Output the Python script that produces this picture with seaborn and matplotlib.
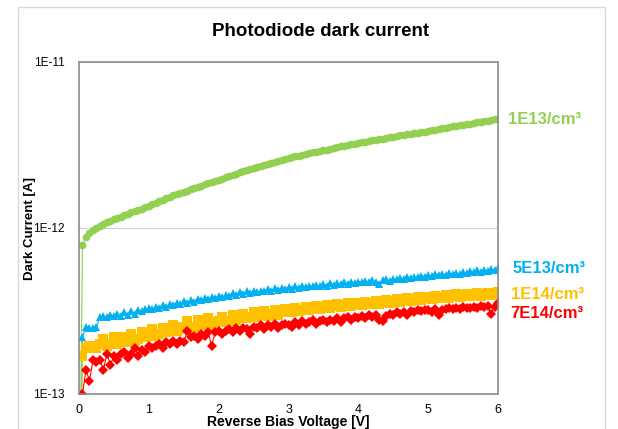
import numpy as np
import pandas as pd
import matplotlib
matplotlib.use("Agg")
import matplotlib.pyplot as plt
import matplotlib.patches as patches
from matplotlib.ticker import NullLocator
import seaborn as sns

# bias voltage grid, 0 to 6 V in 0.05 V steps
voltage = np.round(np.arange(0, 121) * 0.05, 2)

# dark current in units of 1e-13 A (first point at 0 V lies below the axis)
i_1e13 = [0.1,
          7.9, 8.8, 9.3, 9.7, 10.0, 10.3, 10.6, 10.8, 11.0, 11.3, 11.5, 11.7, 11.9, 12.1, 12.4, 12.6, 12.9, 13.1, 13.3, 13.6,
          13.9, 14.2, 14.5, 14.8, 15.1, 15.4, 15.7, 16.0, 16.2, 16.5, 16.8, 17.1, 17.4, 17.7, 18.0, 18.3, 18.6, 18.9, 19.2, 19.5,
          19.8, 20.2, 20.5, 20.9, 21.2, 21.6, 21.9, 22.3, 22.6, 23.0, 23.3, 23.6, 24.0, 24.3, 24.7, 25.0, 25.4, 25.7, 26.1, 26.4,
          26.7, 27.0, 27.3, 27.6, 27.9, 28.2, 28.5, 28.8, 29.1, 29.4, 29.7, 30.1, 30.4, 30.7, 31.0, 31.3, 31.6, 31.9, 32.2, 32.5,
          32.8, 33.1, 33.4, 33.7, 34.0, 34.3, 34.6, 34.9, 35.2, 35.5, 35.8, 36.1, 36.3, 36.6, 36.9, 37.2, 37.5, 37.8, 38.1, 38.4,
          38.8, 39.1, 39.5, 39.8, 40.2, 40.5, 40.9, 41.2, 41.6, 41.9, 42.3, 42.6, 43.0, 43.3, 43.7, 44.0, 44.4, 44.7, 45.1, 45.4]

i_5e13 = [0.1,
          2.2, 2.55, 2.5, 2.5, 2.55, 2.9, 2.95, 2.9, 3.0, 2.95, 3.05, 2.95, 3.1, 3.0, 3.15, 3.05, 3.2, 3.15, 3.25, 3.3,
          3.25, 3.35, 3.3, 3.45, 3.35, 3.5, 3.45, 3.55, 3.5, 3.65, 3.55, 3.7, 3.6, 3.75, 3.7, 3.8, 3.75, 3.85, 3.8, 3.9,
          3.85, 3.95, 3.9, 4.05, 3.95, 4.1, 4.0, 4.15, 4.05, 4.2, 4.1, 4.2, 4.15, 4.3, 4.2, 4.35, 4.25, 4.35, 4.3, 4.4,
          4.3, 4.45, 4.35, 4.5, 4.4, 4.5, 4.45, 4.55, 4.45, 4.6, 4.5, 4.65, 4.55, 4.65, 4.6, 4.7, 4.6, 4.75, 4.65, 4.75,
          4.7, 4.8, 4.7, 4.85, 4.75, 4.6, 4.85, 4.9, 4.8, 4.95, 4.9, 5.0, 4.95, 5.1, 5.0, 5.1, 5.05, 5.15, 5.1, 5.2,
          5.15, 5.25, 5.2, 5.3, 5.2, 5.35, 5.25, 5.35, 5.3, 5.4, 5.35, 5.5, 5.4, 5.55, 5.45, 5.6, 5.5, 5.65, 5.55, 5.75]

i_1e14 = [0.1,
          1.7, 1.9, 1.95, 1.95, 1.9, 2.0, 2.15, 1.95, 2.0, 2.2, 2.0, 2.05, 2.2, 2.05, 2.3, 2.1, 2.15, 2.35, 2.2, 2.25,
          2.45, 2.25, 2.3, 2.5, 2.35, 2.4, 2.6, 2.4, 2.55, 2.45, 2.75, 2.5, 2.55, 2.8, 2.6, 2.65, 2.85, 2.6, 2.7, 2.75,
          2.9, 2.7, 2.75, 3.0, 2.8, 2.85, 3.05, 2.85, 2.9, 3.1, 2.9, 3.0, 3.15, 2.95, 3.05, 3.2, 3.0, 3.1, 3.25, 3.2,
          3.1, 3.3, 3.15, 3.2, 3.35, 3.2, 3.3, 3.4, 3.25, 3.35, 3.45, 3.3, 3.4, 3.5, 3.35, 3.45, 3.55, 3.4, 3.5, 3.55,
          3.45, 3.6, 3.5, 3.55, 3.65, 3.5, 3.6, 3.7, 3.55, 3.65, 3.75, 3.6, 3.7, 3.8, 3.65, 3.75, 3.85, 3.7, 3.8, 3.85,
          3.75, 3.9, 3.8, 3.85, 3.95, 3.8, 3.9, 4.0, 3.85, 3.95, 4.0, 3.9, 3.95, 4.05, 3.9, 4.0, 4.05, 3.95, 4.0, 4.1]

i_7e14 = [0.1,
          1.0, 1.4, 1.2, 1.6, 1.55, 1.6, 1.4, 1.75, 1.5, 1.7, 1.6, 1.75, 1.8, 1.65, 1.75, 1.9, 1.7, 1.85, 1.8, 1.95,
          1.9, 1.95, 2.0, 1.9, 2.05, 2.0, 2.1, 2.0, 2.1, 2.05, 2.4, 2.2, 2.25, 2.15, 2.3, 2.25, 2.35, 1.95, 2.35, 2.4,
          2.3, 2.4, 2.45, 2.35, 2.5, 2.4, 2.5, 2.45, 2.3, 2.55, 2.5, 2.6, 2.45, 2.6, 2.55, 2.65, 2.5, 2.6, 2.65, 2.6,
          2.55, 2.7, 2.6, 2.75, 2.65, 2.7, 2.8, 2.65, 2.75, 2.8, 2.7, 2.8, 2.75, 2.85, 2.7, 2.85, 2.9, 2.8, 2.9, 2.85,
          2.95, 2.85, 3.0, 2.9, 3.0, 2.8, 2.75, 2.95, 3.05, 3.0, 3.1, 3.05, 3.1, 3.0, 3.15, 3.1, 3.2, 3.15, 3.2, 3.2,
          3.1, 3.25, 3.0, 3.2, 3.25, 3.3, 3.25, 3.3, 3.25, 3.35, 3.3, 3.3, 3.35, 3.3, 3.4, 3.35, 3.4, 3.05, 3.35, 3.55]

series = ["1E13/cm³", "5E13/cm³", "1E14/cm³", "7E14/cm³"]
colors = ["#92D050", "#00B0F0", "#FFC000", "#FF0000"]
marker_list = ["o", "^", "s", "D"]
marker_sizes = [5.5, 5.5, 6.5, 5.0]
label_y = [4.5e-12, 5.7e-13, 3.95e-13, 3.05e-13]
label_dx = [10, 15, 13, 12]
y_ticks = [1e-13, 1e-12, 1e-11]
y_tick_labels = ["1E-13", "1E-12", "1E-11"]

frames = []
for name, vals in zip(series, [i_1e13, i_5e13, i_1e14, i_7e14]):
    frames.append(pd.DataFrame({"V": voltage, "I": np.array(vals) * 1e-13, "Doping": name}))
df = pd.concat(frames, ignore_index=True)

sns.set_style("white")
plt.rcParams["font.family"] = ["Liberation Sans", "DejaVu Sans"]
plt.rcParams["text.color"] = "black"
plt.rcParams["axes.labelcolor"] = "black"
plt.rcParams["xtick.color"] = "black"
plt.rcParams["ytick.color"] = "black"

fig = plt.figure(figsize=(6.18, 4.29), dpi=100)
ax = fig.add_axes([79 / 618, 1 - 394 / 429, 419 / 618, 332 / 429])

# outer chart frame
fig.patches.append(patches.Rectangle((18 / 618, -0.05), 587 / 618, 1 - 7 / 429 + 0.05,
                                     transform=fig.transFigure, fill=False,
                                     edgecolor="#d9d9d9", linewidth=1.0))

sns.lineplot(data=df, x="V", y="I", hue="Doping", style="Doping",
             palette=dict(zip(series, colors)), markers=dict(zip(series, marker_list)),
             dashes=False, linewidth=0.8, markersize=5.5, markeredgewidth=0,
             legend=False, ax=ax, sort=False)
for line, ms in zip(ax.lines, marker_sizes):
    line.set_markersize(ms)

ax.set_yscale("log")
ax.set_xlim(0, 6)
ax.set_ylim(1e-13, 1e-11)
ax.set_yticks(y_ticks)
ax.set_yticklabels(y_tick_labels)
ax.yaxis.set_minor_locator(NullLocator())
ax.set_xticks(range(0, 7))
ax.tick_params(axis="x", which="major", direction="out", length=4, width=0.8,
               color="#888888", labelsize=9)
ax.tick_params(axis="y", which="major", direction="out", length=4.5, width=0.8,
               color="#888888", labelsize=8.5, pad=6)
ax.grid(axis="y", color="#d0d0d0", linewidth=0.8)
for s in ax.spines.values():
    s.set_color("#8c8c8c")
    s.set_linewidth(1.2)

ax.set_xlabel("Reverse Bias Voltage [V]", fontsize=10, fontweight="bold", va="center")
ax.xaxis.set_label_coords(0.5, -(422 - 394) / 332)
ax.set_ylabel("Dark Current [A]", fontsize=9.5, fontweight="bold")
ax.yaxis.set_label_coords(-(79 - 36) / 419, 0.5)
fig.text(321 / 618, 1 - 32 / 429, "Photodiode dark current", ha="center", va="center",
         fontsize=13.5, fontweight="bold")

for name, col, ly, dx in zip(series, colors, label_y, label_dx):
    ax.annotate(name, xy=(1.0, ly), xycoords=("axes fraction", "data"),
                xytext=(dx, 0), textcoords="offset pixels",
                color=col, fontsize=12, fontweight="bold", va="center", ha="left")

plt.savefig("out.png", dpi=100)
